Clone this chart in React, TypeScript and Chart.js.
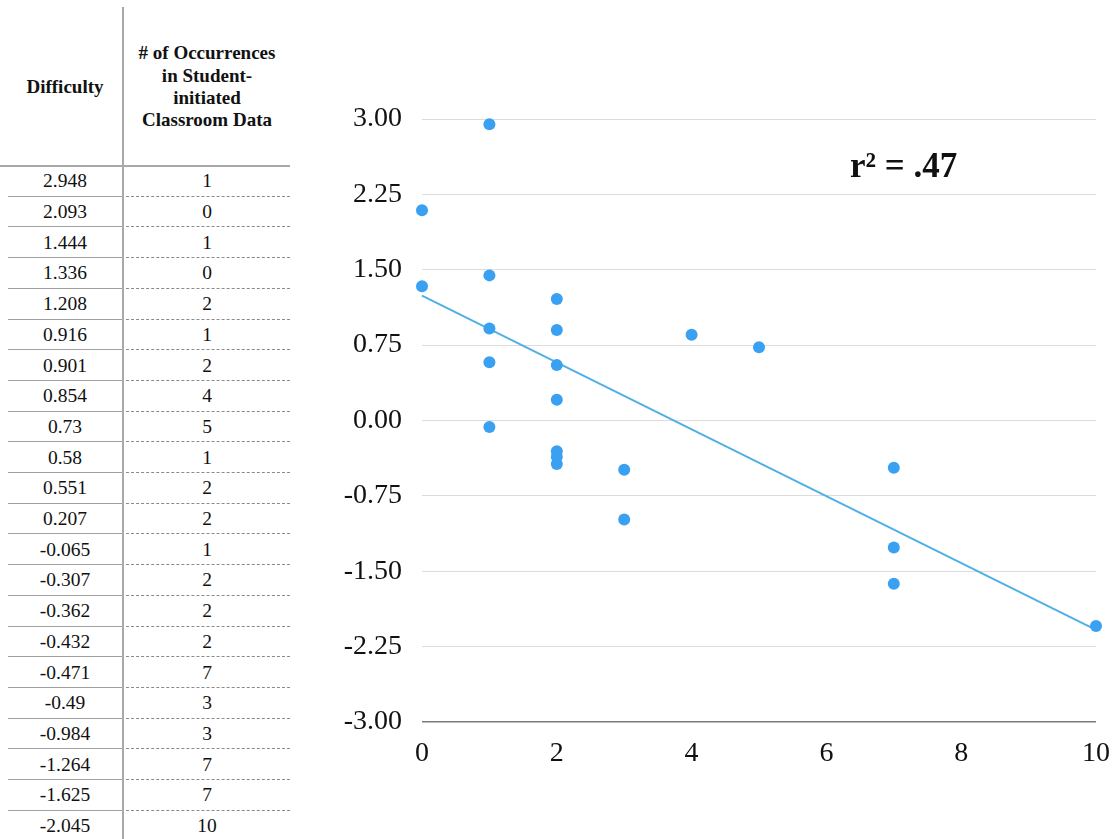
import React, { useEffect, useRef } from "react";
import { Chart, registerables } from "chart.js";

Chart.register(...registerables);

const difficulty = [2.948, 2.093, 1.444, 1.336, 1.208, 0.916, 0.901, 0.854, 0.73, 0.58, 0.551, 0.207, -0.065, -0.307, -0.362, -0.432, -0.471, -0.49, -0.984, -1.264, -1.625, -2.045];
const occurrences = [1, 0, 1, 0, 2, 1, 2, 4, 5, 1, 2, 2, 1, 2, 2, 2, 7, 3, 3, 7, 7, 10];
const headerLeft = "Difficulty";
const headerRight = ["# of Occurrences", "in Student-", "initiated", "Classroom Data"];
const rSquaredLabel = "r\u00b2 = .47";
const xRange = [0, 10];
const yRange = [-3, 3];
const xStep = 2;
const yStep = 0.75;

const SERIF = "'Liberation Serif', 'Times New Roman', serif";

function regression(xs: number[], ys: number[]) {
  const n = xs.length;
  const mx = xs.reduce((a, b) => a + b, 0) / n;
  const my = ys.reduce((a, b) => a + b, 0) / n;
  let sxy = 0, sxx = 0;
  for (let i = 0; i < n; i++) {
    sxy += (xs[i] - mx) * (ys[i] - my);
    sxx += (xs[i] - mx) * (xs[i] - mx);
  }
  const m = sxy / sxx;
  return { m, b: my - m * mx };
}

export default function App() {
  const canvasRef = useRef<HTMLCanvasElement | null>(null);

  useEffect(() => {
    const canvas = canvasRef.current;
    if (!canvas) return;
    const { m, b } = regression(occurrences, difficulty);
    const chart = new Chart(canvas, {
      type: "scatter",
      data: {
        datasets: [
          {
            label: "Difficulty",
            data: occurrences.map((x, i) => ({ x, y: difficulty[i] })),
            backgroundColor: "#3aa0f2",
            borderColor: "#3aa0f2",
            pointRadius: 6,
            pointBorderWidth: 0,
            clip: false,
          } as any,
          {
            type: "line",
            label: "Trend",
            data: xRange.map((x) => ({ x, y: m * x + b })),
            borderColor: "#4fb0e6",
            borderWidth: 2,
            pointRadius: 0,
            fill: false,
            clip: false,
          } as any,
        ],
      },
      options: {
        responsive: false,
        animation: false,
        layout: { padding: { left: 0, right: 18, top: 119, bottom: 67 } },
        plugins: { legend: { display: false }, tooltip: { enabled: false } },
        scales: {
          x: {
            type: "linear",
            min: xRange[0],
            max: xRange[1],
            ticks: {
              stepSize: xStep,
              color: "#111",
              font: { family: SERIF, size: 28 },
              padding: 15,
            },
            grid: { display: false, drawTicks: false },
            border: { display: false },
            afterFit: (s: any) => {
              s.height = 50;
              s.paddingLeft = 0;
              s.paddingRight = 0;
            },
          },
          y: {
            type: "linear",
            min: yRange[0],
            max: yRange[1],
            ticks: {
              stepSize: yStep,
              color: "#111",
              font: { family: SERIF, size: 28 },
              padding: 20,
              callback: (v: any) => Number(v).toFixed(2),
            },
            grid: {
              drawTicks: false,
              color: (ctx: any) => (ctx.tick && ctx.tick.value === yRange[0] ? "#7a7a7a" : "#dcdcdc"),
              lineWidth: (ctx: any) => (ctx.tick && ctx.tick.value === yRange[0] ? 1.6 : 1),
            },
            border: { display: false },
            afterFit: (s: any) => {
              s.width = 122;
            },
          },
        },
      },
    });
    return () => chart.destroy();
  }, []);

  const rowTop = 166;
  const rowH = 30.7;

  return (
    <div style={{ position: "absolute", left: 0, top: 0, width: 1114, height: 839, overflow: "hidden", background: "#fff", fontFamily: SERIF, color: "#111" }}>
      <div style={{ position: "absolute", left: 8, top: 8, width: 114, height: 158, display: "flex", alignItems: "center", justifyContent: "center", fontWeight: "bold", fontSize: 19 }}>
        {headerLeft}
      </div>
      <div style={{ position: "absolute", left: 124, top: 8, width: 166, height: 158, display: "flex", flexDirection: "column", alignItems: "center", justifyContent: "center", fontWeight: "bold", fontSize: 19, lineHeight: "22.3px", textAlign: "center" }}>
        {headerRight.map((t, i) => (
          <div key={i}>{t}</div>
        ))}
      </div>
      <div style={{ position: "absolute", left: 122, top: 7, width: 2, height: 832, background: "#a8a8a8" }} />
      <div style={{ position: "absolute", left: 0, top: 165, width: 290, height: 2, background: "#a8a8a8" }} />
      {difficulty.map((d, i) => (
        <React.Fragment key={i}>
          <div style={{ position: "absolute", left: 8, top: rowTop + rowH * i, width: 114, height: rowH, display: "flex", alignItems: "center", justifyContent: "center", fontSize: 19.5 }}>
            {String(d)}
          </div>
          <div style={{ position: "absolute", left: 124, top: rowTop + rowH * i, width: 166, height: rowH, display: "flex", alignItems: "center", justifyContent: "center", fontSize: 19.5 }}>
            {String(occurrences[i])}
          </div>
          {i < difficulty.length - 1 && (
            <>
              <div style={{ position: "absolute", left: 8, top: rowTop + rowH * (i + 1) - 1, width: 114, height: 0, borderTop: "1.5px solid #a0a0a0" }} />
              <div style={{ position: "absolute", left: 126, top: rowTop + rowH * (i + 1) - 1, width: 164, height: 0, borderTop: "1px dashed #8a8a8a" }} />
            </>
          )}
        </React.Fragment>
      ))}
      <canvas ref={canvasRef} width={814} height={839} style={{ position: "absolute", left: 300, top: 0, width: 814, height: 839 }} />
      <div style={{ position: "absolute", left: 850, top: 148, fontSize: 35, lineHeight: "35px", fontWeight: "bold", whiteSpace: "nowrap" }}>
        {rSquaredLabel}
      </div>
    </div>
  );
}
